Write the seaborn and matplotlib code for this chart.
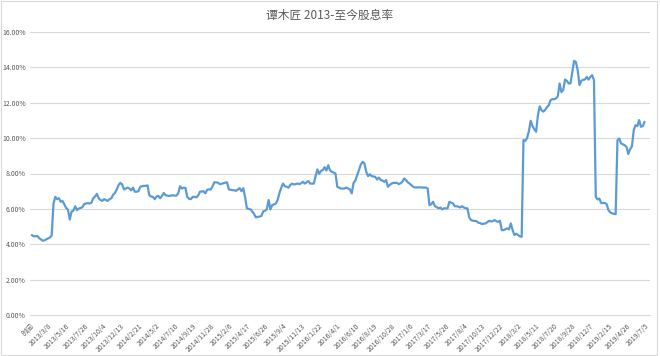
import numpy as np
import pandas as pd
import matplotlib
matplotlib.use("Agg")
import matplotlib.pyplot as plt
import seaborn as sns
from matplotlib.ticker import FuncFormatter, MultipleLocator
from matplotlib.patches import Rectangle

title = "谭木匠 2013-至今股息率"

tick_labels = [
    "时间", "2013/3/8", "2013/5/16", "2013/7/26", "2013/10/4", "2013/12/13",
    "2014/2/21", "2014/5/2", "2014/7/10", "2014/9/19", "2014/11/28",
    "2015/2/6", "2015/4/17", "2015/6/26", "2015/9/4", "2015/11/13",
    "2016/1/22", "2016/4/1", "2016/6/10", "2016/8/19", "2016/10/28",
    "2017/1/6", "2017/3/17", "2017/5/26", "2017/8/4", "2017/10/13", "2017/12/22",
    "2018/3/2", "2018/5/11", "2018/7/20", "2018/9/28", "2018/12/7",
    "2019/2/15", "2019/4/26", "2019/7/5",
]
tick_step = 10

# weekly dividend yield (%), one value per week starting 2013/1/4
yield_2013 = [4.52, 4.45, 4.45, 4.47, 4.35, 4.28, 4.2, 4.22, 4.28, 4.33,
              4.38, 4.5, 6.3, 6.68, 6.55, 6.6, 6.4, 6.45, 6.25, 6.05,
              5.95, 5.4, 5.85, 5.9, 6.15, 5.93, 6.02, 6.05, 6.1, 6.27,
              6.3, 6.33, 6.3, 6.35, 6.6, 6.7, 6.85, 6.6, 6.5, 6.45,
              6.55, 6.5, 6.45, 6.55, 6.6, 6.8, 6.9, 7.1, 7.35, 7.47,
              7.38, 7.1]
yield_2014 = [7.15, 7.2, 7.15, 7.05, 7.2, 6.97, 6.97, 7.0,
              7.25, 7.28, 7.3, 7.3, 7.33, 6.77, 6.7, 6.68, 6.55, 6.7,
              6.73, 6.6, 6.73, 6.9, 6.77, 6.75, 6.73, 6.75, 6.77, 6.75,
              6.75, 6.88, 7.28, 7.15, 7.2, 7.18, 6.68, 6.57, 6.55, 6.68,
              6.68, 6.65, 6.75, 6.97, 6.98, 7.0, 6.88, 7.08, 7.1, 7.1,
              7.28, 7.5, 7.5, 7.48]
yield_2015 = [7.4, 7.42, 7.45, 7.48, 7.5, 7.1,
              7.08, 7.06, 7.05, 7.02, 7.1, 7.17, 7.0, 7.17, 6.65, 6.03,
              6.0, 5.97, 5.85, 5.7, 5.52, 5.55, 5.56, 5.6, 5.85, 5.9,
              5.97, 6.5, 5.97, 6.22, 6.25, 6.3, 6.5, 6.9, 7.2, 7.43,
              7.28, 7.25, 7.2, 7.35, 7.43, 7.38, 7.4, 7.43, 7.4, 7.45,
              7.53, 7.43, 7.5, 7.57, 7.43, 7.43]
yield_2016 = [7.43, 7.85, 8.23, 7.98,
              8.15, 8.2, 8.36, 8.17, 8.47, 8.17, 8.1, 8.05, 8.0, 7.25,
              7.2, 7.15, 7.15, 7.15, 7.2, 7.15, 7.1, 6.88, 7.47, 7.6,
              7.9, 8.2, 8.5, 8.66, 8.57, 8.1, 7.85, 7.96, 7.85, 7.83,
              7.81, 7.66, 7.77, 7.63, 7.6, 7.53, 7.63, 7.25, 7.35, 7.43,
              7.47, 7.47, 7.47, 7.4, 7.45, 7.53, 7.72, 7.63, 7.5]
yield_2017 = [7.43,
              7.34, 7.25, 7.21, 7.21, 7.22, 7.21, 7.21, 7.2, 7.21, 7.15,
              6.21, 6.27, 6.4, 6.15, 6.1, 6.03, 6.08, 5.97, 6.03, 6.03,
              6.03, 6.4, 6.35, 6.31, 6.15, 6.15, 6.12, 6.08, 6.15, 6.08,
              6.03, 6.03, 5.52, 5.37, 5.33, 5.32, 5.31, 5.22, 5.2, 5.14,
              5.16, 5.18, 5.25, 5.33, 5.29, 5.3, 5.37, 5.3, 5.27, 5.33,
              4.8]
yield_2018 = [4.8, 4.85, 4.9, 4.84, 5.18, 4.8, 4.52, 4.6, 4.52,
              4.45, 4.42, 9.89, 9.85, 10.0, 10.4, 10.98, 10.68, 10.5, 10.36,
              11.3, 11.8, 11.58, 11.5, 11.6, 11.75, 11.86, 12.15, 12.2, 12.2,
              12.24, 12.37, 13.09, 12.6, 12.73, 13.31, 13.24, 13.09, 13.09, 13.75,
              14.37, 14.3, 13.84, 13.0, 13.24, 13.3, 13.31, 13.46, 13.31, 13.46,
              13.56, 13.28, 6.68]
yield_2019 = [6.53, 6.58, 6.33, 6.33, 6.33, 6.27, 5.93,
              5.8, 5.75, 5.72, 5.7, 9.89, 9.98, 9.7, 9.65, 9.6, 9.5,
              9.1, 9.38, 9.53, 10.45, 10.73, 10.68, 11.02, 10.64, 10.68, 10.92]

values = yield_2013 + yield_2014 + yield_2015 + yield_2016 + yield_2017 + yield_2018 + yield_2019
df = pd.DataFrame({"idx": np.arange(1, len(values) + 1), "yield": values})

sns.set_theme(style="white")
plt.rcParams["font.family"] = ["Noto Sans CJK SC", "DejaVu Sans"]

fig = plt.figure(figsize=(6.6, 3.56), dpi=100)
ax = fig.add_axes([30 / 660, 1 - 315 / 356, 620 / 660, (315 - 32) / 356])

sns.lineplot(data=df, x="idx", y="yield", ax=ax, color="#5b9bd5", linewidth=1.6)

ax.set_ylim(0, 16)
ax.set_xlim(0, 343)
ax.yaxis.set_major_locator(MultipleLocator(2))
ax.yaxis.set_major_formatter(FuncFormatter(lambda v, p: f"{v:.2f}%"))
ax.set_xticks(np.arange(0, len(tick_labels) * tick_step, tick_step))
ax.set_xticklabels(tick_labels, rotation=45, ha="right", va="top", rotation_mode="anchor")

ax.grid(axis="y", color="#d9d9d9", linewidth=0.8)
ax.grid(axis="x", visible=False)
for s in ["top", "right", "left"]:
    ax.spines[s].set_visible(False)
ax.spines["bottom"].set_color("#d9d9d9")
ax.spines["bottom"].set_linewidth(0.8)
ax.tick_params(axis="both", length=0, colors="#595959", labelsize=5)
ax.tick_params(axis="x", pad=5)
ax.tick_params(axis="y", pad=3)
ax.set_xlabel("")
ax.set_ylabel("")

fig.text(0.5, 1 - 15 / 356, title, ha="center", va="center", fontsize=8.5, color="#595959")
fig.patches.append(Rectangle((0.002, 0.004), 0.994, 0.992, transform=fig.transFigure,
                             fill=False, edgecolor="#d9d9d9", linewidth=0.8))

fig.savefig("out.png", dpi=100, facecolor="white")
